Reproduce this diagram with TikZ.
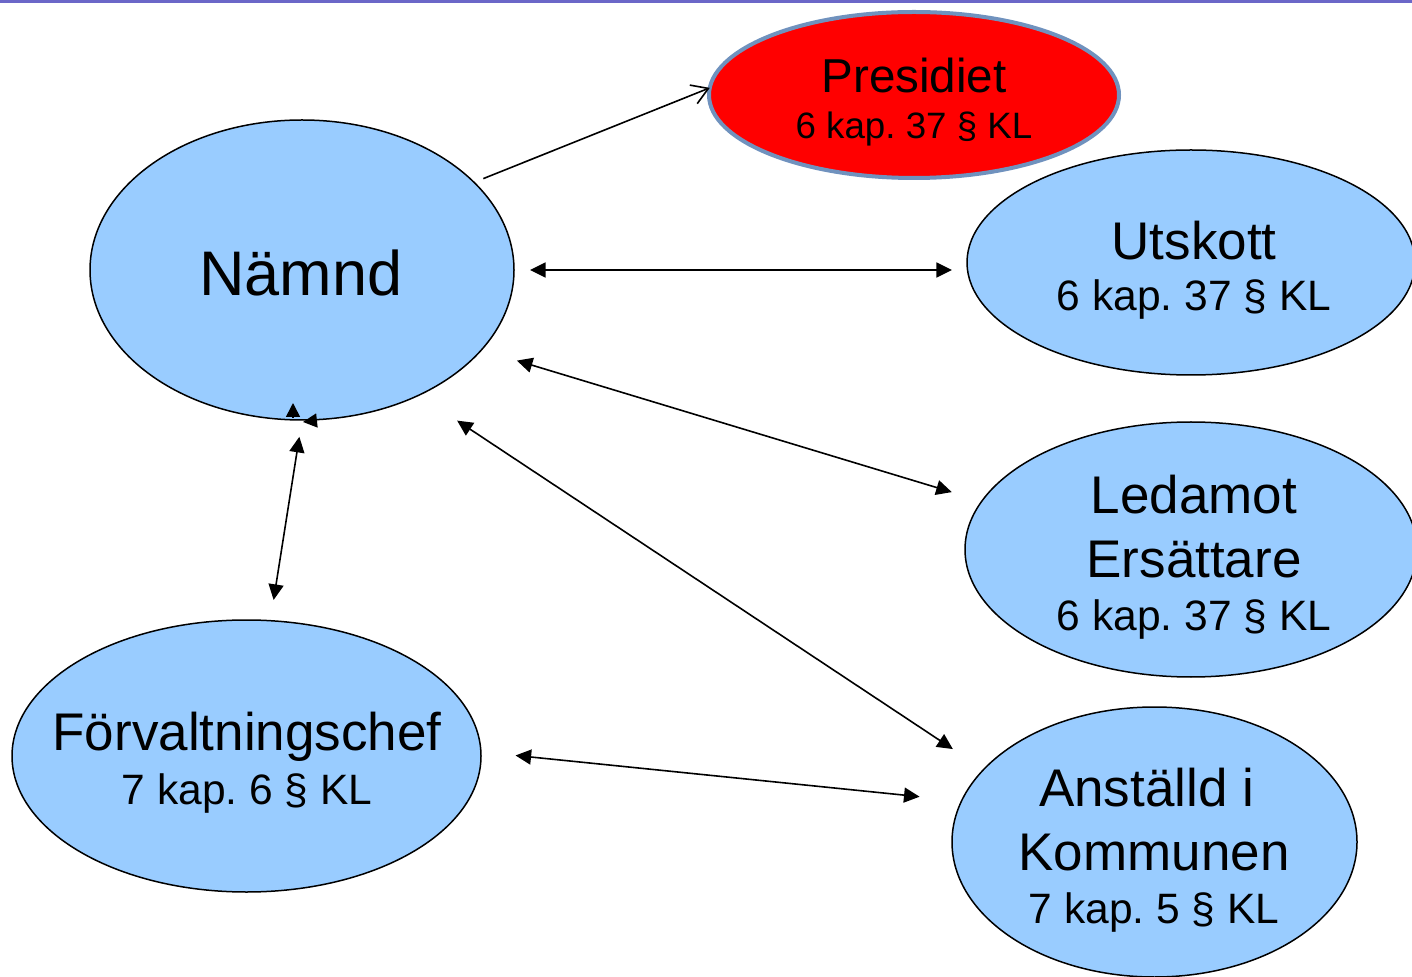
\documentclass[tikz,border=0pt]{standalone}
\usepackage{fontspec}
\setmainfont{Liberation Sans}
\usetikzlibrary{arrows.meta,shapes.geometric}
\definecolor{blobblue}{HTML}{99CCFF}
\definecolor{presred}{HTML}{FF0000}
\definecolor{presrim}{HTML}{7092BE}
\definecolor{topbar}{HTML}{6B67C8}
\newcommand{\hugef}{\fontsize{31.5}{38}\selectfont}
\newcommand{\mainf}{\fontsize{26.5}{32}\selectfont}
\newcommand{\subf}{\fontsize{21.25}{26}\selectfont}
\frenchspacing
\tikzset{
  blob/.style={ellipse,draw=black,line width=0.75pt,fill=blobblue,inner sep=0pt,outer sep=0pt},
  lbl/.style={align=center,inner sep=0pt,font=\mainf},
  dbl/.style={{Triangle[length=7.8pt,width=7.5pt]}-{Triangle[length=7.8pt,width=7.5pt]},line width=0.8pt},
  stub/.style={-{Triangle[length=7pt,width=7pt]},line width=0.8pt},
}

\begin{document}
\begin{tikzpicture}[x=0.5pt,y=-0.5pt]
  \useasboundingbox (0,0) rectangle (1412,977);
  \clip (0,0) rectangle (1412,977);
  \fill[topbar] (0,0) rectangle (1412,3.5);
  % ellipses
  \node[blob,minimum width=212pt,minimum height=150pt] (namnd) at (302,270) {};
  \node[blob,draw=presrim,line width=2pt,fill=presred,minimum width=205pt,minimum height=83pt] (presidiet) at (914,95) {};
  \node[blob,minimum width=224pt,minimum height=112.5pt] (utskott) at (1191,262.5) {};
  \node[blob,minimum width=226pt,minimum height=127.5pt] (ledamot) at (1191,549.5) {};
  \node[blob,minimum width=234.5pt,minimum height=136pt] (forv) at (246.5,756) {};
  \node[blob,minimum width=202.5pt,minimum height=135pt] (anstalld) at (1154.5,842) {};
  % texts
  \node[lbl,font=\hugef] (namndtxt) at (301,272.5) {Nämnd};
  \node[lbl,font=\fontsize{23.8}{23}\selectfont] (prestxt) at (914,102)
    {Presidiet\\{\fontsize{18.35}{22}\selectfont 6 kap. 37 § KL}};
  \node[lbl] (utskotttxt) at (1194,270) {Utskott\\[-6.5pt]{\subf 6 kap. 37 § KL}};
  \node[lbl] (ledamottxt) at (1194,557) {Ledamot\\Ersättare\\[-5.5pt]{\subf 6 kap. 37 § KL}};
  \node[lbl] (forvtxt) at (247,762.5) {Förvaltningschef\\[-5pt]{\subf 7 kap. 6 § KL}};
  \node[lbl] (anstalldtxt) at (1154,850.5) {Anställd i\hspace*{0.278em}\\Kommunen\\[-5.5pt]{\subf 7 kap. 5 § KL}};
  % connectors
  \draw[-{Straight Barb[length=8pt,width=10pt]},line width=0.8pt,shorten <=5pt] (namnd.27) to (presidiet.178);
  \draw[dbl,shorten <=8pt,shorten >=7.5pt] (namnd.east) to (namnd.east -| utskott.west);
  \draw[dbl,shorten <=18.5pt,shorten >=15.7pt] (namnd.-24.5) to (ledamot.167.6);
  \draw[dbl,shorten <=23pt,shorten >=18.5pt] (namnd.-47.9) to (anstalld.157.1);
  \draw[dbl,shorten <=8.5pt,shorten >=10.5pt] (namnd.-90) to (forv.80.6);
  \draw[dbl,shorten <=17.4pt,shorten >=21.1pt] (forv.1.5) to (anstalld.168.4);
  \draw[stub] ([shift={(-9,-3)}]namnd.south) to ++(0,-14);
  \draw[stub] ([shift={(15,0.5)}]namnd.south) to ++(-14,1.5);
\end{tikzpicture}
\end{document}
